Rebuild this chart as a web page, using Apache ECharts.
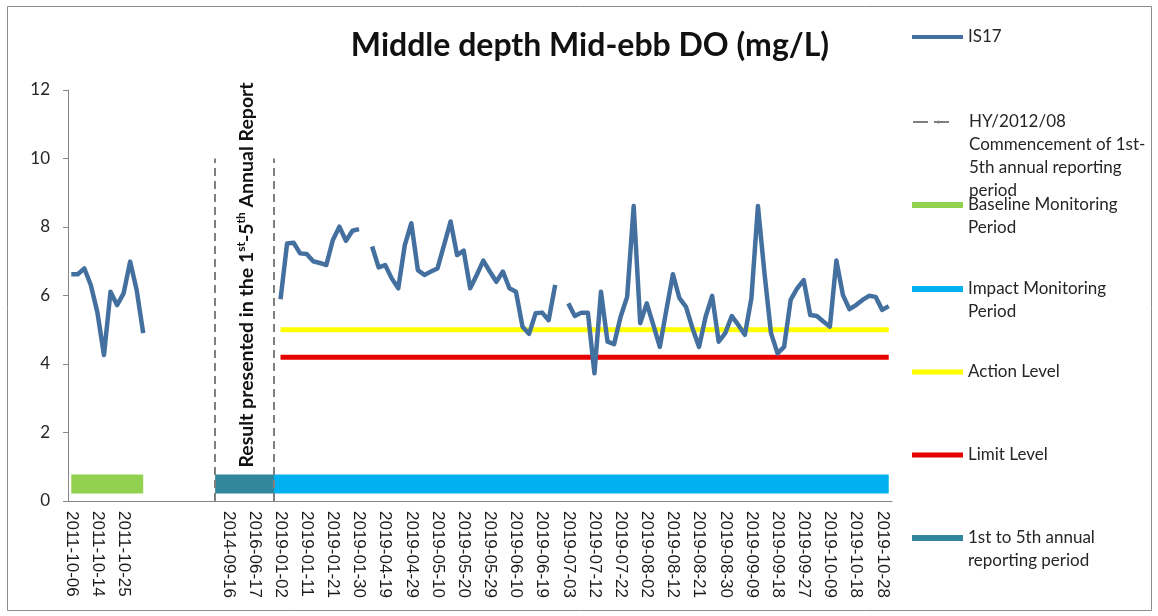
<!DOCTYPE html>
<html>
<head>
<meta charset="utf-8">
<script src="https://cdn.jsdelivr.net/npm/echarts@6/dist/echarts.min.js"></script>
<style>html,body{margin:0;padding:0;background:#fff}#c{width:1158px;height:616px}</style>
</head>
<body>
<div id="c"></div>
<script>
// ---- data ----
const tickLabels = ['2011-10-06','2011-10-14','2011-10-25','','','','2014-09-16','2016-06-17',
  '2019-01-02','2019-01-11','2019-01-21','2019-01-30','2019-04-19','2019-04-29','2019-05-10','2019-05-20',
  '2019-05-29','2019-06-10','2019-06-19','2019-07-03','2019-07-12','2019-07-22','2019-08-02','2019-08-12',
  '2019-08-21','2019-08-30','2019-09-09','2019-09-18','2019-09-27','2019-10-09','2019-10-18','2019-10-28'];
const categoryCount = 126;
const baselineDO = [6.62,6.62,6.79,6.3,5.5,4.26,6.11,5.72,6.06,6.99,6.16,4.9];
const reportGapLength = 20;
const impactDO = [5.89,7.52,7.54,7.23,7.21,7.0,6.95,6.89,7.62,8.01,7.6,7.89,7.94,null,
  7.43,6.82,6.89,6.5,6.21,7.47,8.11,6.74,6.6,6.7,6.79,7.47,8.16,7.18,7.31,6.21,6.6,7.02,6.7,6.4,6.7,6.21,6.11,
  5.09,4.88,5.48,5.5,5.28,6.31,null,
  5.77,5.4,5.5,5.5,3.73,6.11,4.65,4.58,5.38,5.96,8.61,5.19,5.77,5.14,4.5,5.58,6.62,5.92,5.67,5.04,4.5,5.38,
  5.99,4.65,4.9,5.4,5.14,4.85,5.92,8.61,6.65,4.9,4.31,4.5,5.87,6.21,6.45,5.43,5.4,5.24,5.09,7.02,6.01,5.6,
  5.72,5.87,5.99,5.96,5.58,5.69];
const actionLevel = 5.0;
const limitLevel = 4.2;
const levelRange = [32, 125];
const baselinePeriod = [0, 11];
const reportPeriod = [22, 31];
const impactPeriod = [31, 125];
const periodBarValue = 0.5;
const commencementLines = [22, 31];
const commencementTop = 10;

// ---- build ----
const categories = [];
for (let i = 0; i < categoryCount; i++) categories.push(i % 4 === 0 ? tickLabels[i / 4] : '');
const doSeries = baselineDO.concat(new Array(reportGapLength).fill(null), impactDO);

const FONT = 'Lato, "Open Sans", sans-serif';
const names = {
  is17: 'IS17',
  hy: 'HY/2012/08 Commencement of 1st-5th annual reporting period',
  base: 'Baseline Monitoring Period',
  imp: 'Impact Monitoring Period',
  act: 'Action Level',
  lim: 'Limit Level',
  rep: '1st to 5th annual reporting period'
};
const legendLines = {};
legendLines[names.is17] = ['IS17'];
legendLines[names.hy] = ['HY/2012/08','Commencement of 1st-','5th annual reporting','period'];
legendLines[names.base] = ['Baseline Monitoring','Period'];
legendLines[names.imp] = ['Impact Monitoring','Period'];
legendLines[names.act] = ['Action Level'];
legendLines[names.lim] = ['Limit Level'];
legendLines[names.rep] = ['1st to 5th annual','reporting period'];

const LH = 22.7;
function mkLegend(name, cy, extra) {
  const n = legendLines[name].length;
  const lg = Object.assign({
    orient: 'vertical', left: 912, top: cy - (2 * n - 1) * LH / 2, padding: 0,
    itemWidth: 51, itemHeight: 5, selectedMode: false,
    data: [{ name: name, icon: 'rect' }],
    formatter: function (nm) {
      const lines = legendLines[nm];
      const pad = [];
      for (let k = 1; k < lines.length; k++) pad.push(' ');
      return pad.concat(lines).join('\n');
    },
    textStyle: { fontFamily: FONT, fontSize: 17, color: '#262626', lineHeight: LH }
  }, extra || {});
  return lg;
}

const option = {
  animation: false,
  backgroundColor: '#fff',
  title: {
    text: 'Middle depth Mid-ebb DO (mg/L)', left: 585, top: 25, textAlign: 'center',
    textStyle: { fontFamily: FONT, fontWeight: 'bold', fontSize: 32, color: '#111' }
  },
  grid: { left: 68, right: 266, top: 90, bottom: 115, containLabel: false },
  legend: [
    mkLegend(names.is17, 37, { itemHeight: 4 }),
    mkLegend(names.hy, 122, { data: [{ name: names.hy }], itemHeight: 4,
      lineStyle: { type: [15, 6, 15, 30], width: 2, color: '#7f7f7f' } }),
    mkLegend(names.base, 205, { itemHeight: 6 }),
    mkLegend(names.imp, 289, { itemHeight: 6 }),
    mkLegend(names.act, 372),
    mkLegend(names.lim, 455),
    mkLegend(names.rep, 538, { itemHeight: 6 })
  ],
  xAxis: {
    type: 'category', data: categories, boundaryGap: true,
    axisLine: { lineStyle: { color: '#868686', width: 1 } },
    axisTick: { interval: 3, length: 5, lineStyle: { color: '#868686' } },
    axisLabel: { interval: 3, rotate: -90, margin: 10, fontFamily: '"Liberation Sans", Arial, sans-serif',
      fontSize: 17, color: '#1a1a1a' },
    splitLine: { show: false }
  },
  yAxis: {
    type: 'value', min: 0, max: 12, interval: 2,
    axisLine: { show: true, lineStyle: { color: '#868686', width: 1 } },
    axisTick: { show: true, length: 5, lineStyle: { color: '#868686' } },
    axisLabel: { margin: 18, fontFamily: FONT, fontSize: 17, color: '#262626' },
    splitLine: { show: false }
  },
  series: [
    { name: names.base, type: 'line', symbol: 'none', color: '#92D050',
      lineStyle: { width: 19, color: '#92D050', cap: 'butt' },
      data: [[baselinePeriod[0], periodBarValue], [baselinePeriod[1], periodBarValue]] },
    { name: names.rep, type: 'line', symbol: 'none', color: '#31869B',
      lineStyle: { width: 19, color: '#31869B', cap: 'butt' },
      data: [[reportPeriod[0], periodBarValue], [reportPeriod[1], periodBarValue]] },
    { name: names.imp, type: 'line', symbol: 'none', color: '#00B0F0',
      lineStyle: { width: 19, color: '#00B0F0', cap: 'butt' },
      data: [[impactPeriod[0], periodBarValue], [impactPeriod[1], periodBarValue]] },
    { name: names.hy, type: 'line', symbol: 'none', color: '#7f7f7f',
      lineStyle: { width: 2, type: [8, 5], color: '#7f7f7f' }, data: [],
      markLine: { silent: true, symbol: 'none', label: { show: false },
        lineStyle: { width: 2, type: [8, 5], color: '#7f7f7f' },
        data: commencementLines.map(c => [{ coord: [c, 0] }, { coord: [c, commencementTop] }]) } },
    { name: names.act, type: 'line', symbol: 'none', color: '#FFFF00',
      lineStyle: { width: 5, color: '#FFFF00' },
      data: [[levelRange[0], actionLevel], [levelRange[1], actionLevel]] },
    { name: names.lim, type: 'line', symbol: 'none', color: '#E60000',
      lineStyle: { width: 5, color: '#E60000' },
      data: [[levelRange[0], limitLevel], [levelRange[1], limitLevel]] },
    { name: names.is17, type: 'line', symbol: 'none', color: '#44709F', connectNulls: false,
      lineStyle: { width: 4.5, color: '#44709F', join: 'round' }, data: doSeries }
  ],
  graphic: [
    { type: 'rect', silent: true, shape: { x: 7.5, y: 6.5, width: 1144, height: 604 },
      style: { fill: 'none', stroke: '#8c8c8c', lineWidth: 1 } },
    { type: 'text', x: 246, y: 275, rotation: Math.PI / 2, silent: true,
      style: {
        text: '{b|Result presented in the 1}{s|st}{b|-5}{s|th}{b| Annual Report}',
        align: 'center', verticalAlign: 'middle', fill: '#111',
        rich: {
          b: { fontFamily: FONT, fontWeight: 'bold', fontSize: 19.5, lineHeight: 22, fill: '#111', verticalAlign: 'bottom' },
          s: { fontFamily: FONT, fontWeight: 'bold', fontSize: 12, lineHeight: 22, fill: '#111', verticalAlign: 'top' }
        }
      } }
  ]
};
const chart = echarts.init(document.getElementById('c'), null, { renderer: 'canvas' });
chart.setOption(option);
</script>
</body>
</html>
